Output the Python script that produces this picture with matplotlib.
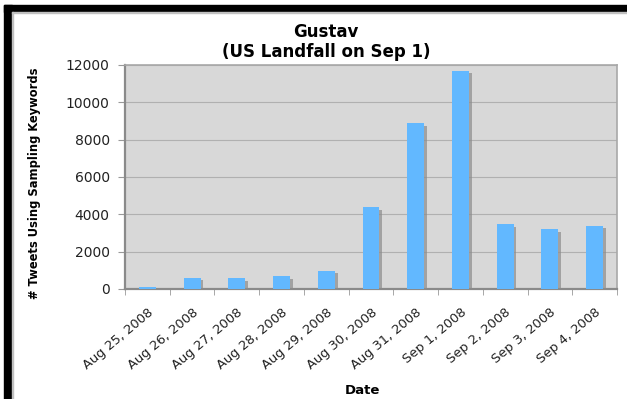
#!/usr/bin/env python3
"""Daily tweet counts around Hurricane Gustav's landfall."""

import numpy as np
import matplotlib
matplotlib.use('Agg')
import matplotlib.pyplot as plt
import matplotlib.patheffects as pe
from matplotlib.patches import Rectangle
from matplotlib.transforms import ScaledTranslation

dates = ['Aug 25, 2008', 'Aug 26, 2008', 'Aug 27, 2008', 'Aug 28, 2008',
         'Aug 29, 2008', 'Aug 30, 2008', 'Aug 31, 2008', 'Sep 1, 2008',
         'Sep 2, 2008', 'Sep 3, 2008', 'Sep 4, 2008']
tweets = [110, 610, 580, 700, 980, 4380, 8900, 11700, 3480, 3200, 3400]
yticks = [0, 2000, 4000, 6000, 8000, 10000, 12000]

W, H = 627, 399
fig = plt.figure(figsize=(W / 100, H / 100), dpi=100)
fig.patch.set_facecolor('white')

# black frame along the top and left edges
fig.patches.append(Rectangle((4 / W, 1 - 12 / H), 1, 7 / H,
                             transform=fig.transFigure, color='black',
                             zorder=0))
fig.patches.append(Rectangle((4 / W, 0), 8 / W, 1 - 5 / H,
                             transform=fig.transFigure, color='black',
                             zorder=0))
fig.patches.append(Rectangle((12 / W, 1 - 13 / H), 1, 1 / H,
                             transform=fig.transFigure, color='#c0c0c0',
                             zorder=0))
fig.patches.append(Rectangle((12 / W, 0), 1 / W, 1 - 12 / H,
                             transform=fig.transFigure, color='#c0c0c0',
                             zorder=0))

ax = fig.add_axes([125 / W, (H - 289) / H, 492 / W, 224 / H])
ax.set_facecolor('#d8d8d8')

x = np.arange(len(dates))
shadow = [pe.SimplePatchShadow(offset=(2, -2), shadow_rgbFace='#8c8c8c',
                               alpha=0.7), pe.Normal()]
bars = ax.bar(x, tweets, width=0.38, color='#62b8ff', zorder=3)
for b in bars:
    b.set_path_effects(shadow)

ax.set_xlim(-0.5, len(dates) - 0.5)
ax.set_ylim(0, 12000)
ax.set_yticks(yticks)
ax.yaxis.grid(True, color='#b0b0b0', linewidth=0.8, zorder=1)
ax.set_axisbelow(True)

ax.set_xticks(x)
ax.set_xticklabels(dates, rotation=40, ha='right', va='top',
                   rotation_mode='anchor', fontsize=9.4, color='#222222')
shift = ScaledTranslation(-6 / 100, 0, fig.dpi_scale_trans)
for lbl in ax.get_xticklabels():
    lbl.set_transform(lbl.get_transform() + shift)
ax.set_xticks(np.arange(len(dates) + 1) - 0.5, minor=True)
ax.tick_params(axis='x', which='major', length=0, pad=12)
ax.tick_params(axis='x', which='minor', length=4, color='#999999')
ax.tick_params(axis='y', length=5, color='#999999', labelsize=10,
               labelcolor='#222222', pad=6)

for side in ['left', 'bottom']:
    ax.spines[side].set_color('#8a8a8a')
    ax.spines[side].set_linewidth(1.6)
for side in ['top', 'right']:
    ax.spines[side].set_color('#a8a8a8')
    ax.spines[side].set_linewidth(1.2)

fig.text(326 / W, 1 - 42 / H, 'Gustav\n(US Landfall on Sep 1)',
         ha='center', va='center', fontsize=12, fontweight='bold',
         linespacing=1.1)
fig.text(35 / W, 1 - 183 / H, '# Tweets Using Sampling Keywords',
         rotation=90, ha='center', va='center', fontsize=8.3,
         fontweight='bold')
fig.text(362 / W, 1 - 391 / H, 'Date', ha='center', va='center',
         fontsize=9.5, fontweight='bold')

fig.savefig('out.png', dpi=100)
